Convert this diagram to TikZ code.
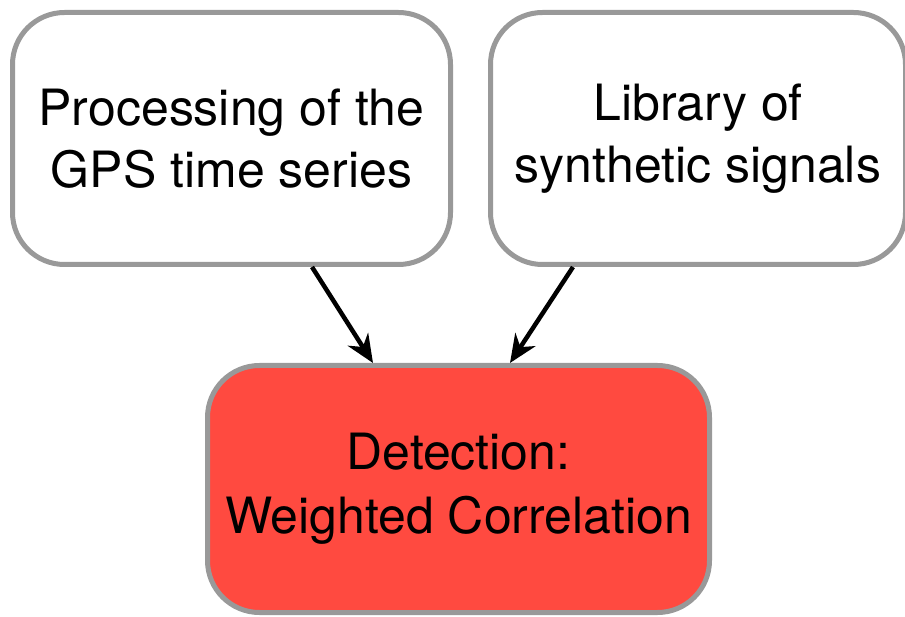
\documentclass[tikz,border=0pt]{standalone}
\usepackage{fontspec}
\setmainfont{TeX Gyre Heros}
\usetikzlibrary{arrows.meta}
\definecolor{bordergray}{RGB}{153,153,153}
\definecolor{detred}{RGB}{255,74,64}
\begin{document}
\begin{tikzpicture}[x=1pt,y=-1pt,
  box/.style={draw=bordergray, line width=5pt, rounded corners=52pt, align=center, inner sep=0pt},
  toptext/.style={font=\fontsize{50}{62}\selectfont},
  bottext/.style={font=\fontsize{50}{64}\selectfont},
  arr/.style={line width=4.5pt, -{Stealth[length=28pt,width=24pt,inset=9pt]}}]
\useasboundingbox (0,0) rectangle (905,617);
\node[box, toptext, fill=white, minimum width=438pt, minimum height=252pt] (L) at (231.5,138.5) {Processing of the\\GPS time series};
\node[box, toptext, fill=white, minimum width=415pt, minimum height=252pt] (R) at (698,138.5) {Library of\\synthetic signals};
\node[box, bottext, fill=detred, minimum width=502pt, minimum height=247pt] (D) at (458.5,489) {Detection:\\Weighted Correlation};
\draw[arr] ([xshift=80.5pt]L.south) -- ([xshift=-85.5pt]D.north);
\draw[arr] ([xshift=-125pt]R.south) -- ([xshift=51.5pt]D.north);
\end{tikzpicture}
\end{document}
